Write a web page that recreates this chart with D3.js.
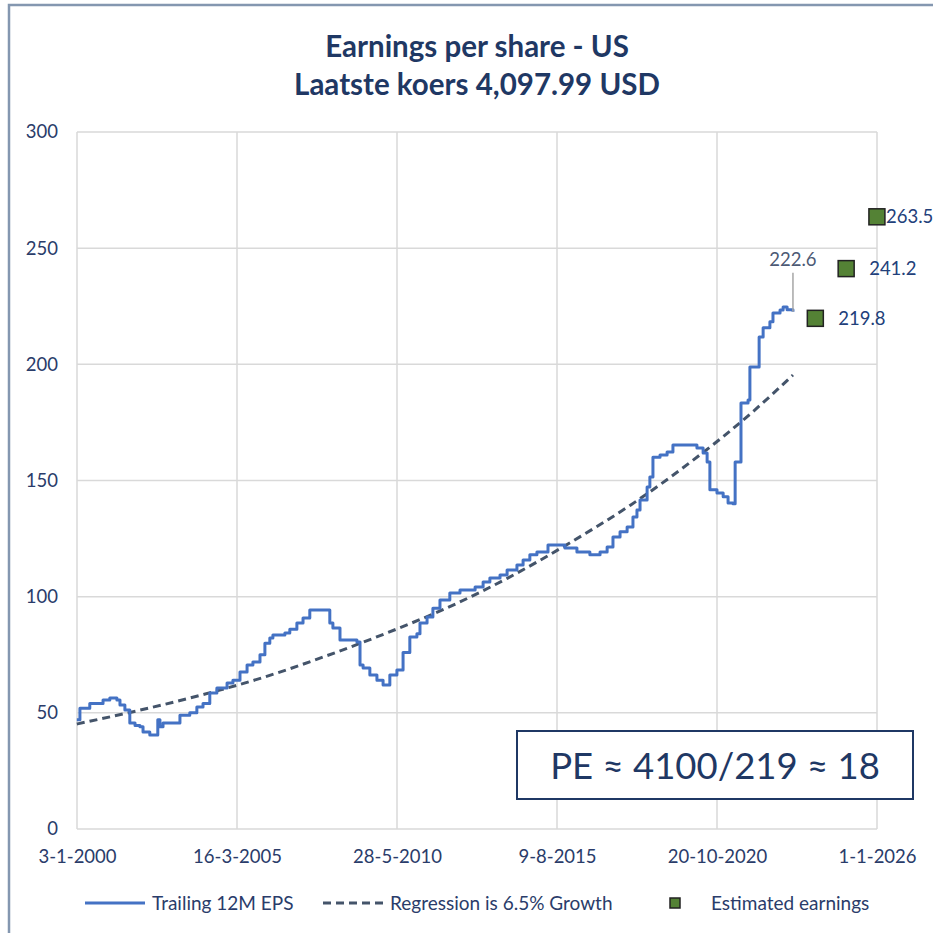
<!DOCTYPE html>
<html>
<head>
<meta charset="utf-8">
<script src="https://cdn.jsdelivr.net/npm/d3@7"></script>
<style>
  body { margin: 0; background: #fff; }
  text { font-family: Lato, "Open Sans", sans-serif; }
</style>
</head>
<body>
<script>
'use strict';

// trailing 12M EPS (decimal year, value)
const epsYears = [2000.00, 2000.10, 2000.42, 2000.85, 2001.07, 2001.30, 2001.40, 2001.56, 2001.72, 2001.89,
  2002.05, 2002.15, 2002.37, 2002.60, 2002.63, 2002.70, 2002.80, 2003.25, 2003.35, 2003.67,
  2003.90, 2004.10, 2004.32, 2004.55, 2004.88, 2005.07, 2005.30, 2005.53, 2005.72, 2005.95,
  2006.11, 2006.27, 2006.37, 2006.76, 2006.92, 2007.15, 2007.35, 2007.57, 2008.13, 2008.22,
  2008.32, 2008.55, 2009.10, 2009.20, 2009.30, 2009.52, 2009.75, 2009.95, 2010.08, 2010.17,
  2010.40, 2010.60, 2010.82, 2011.05, 2011.15, 2011.38, 2011.57, 2011.80, 2012.12, 2012.45,
  2012.94, 2013.20, 2013.42, 2013.75, 2013.98, 2014.30, 2014.50, 2014.72, 2014.95, 2015.31,
  2015.86, 2016.25, 2016.67, 2017.00, 2017.23, 2017.42, 2017.65, 2017.88, 2018.07, 2018.20,
  2018.30, 2018.53, 2018.62, 2018.72, 2018.95, 2019.18, 2019.37, 2020.02, 2020.15, 2020.35,
  2020.48, 2020.57, 2020.80, 2021.00, 2021.16, 2021.32, 2021.39, 2021.55, 2021.58, 2021.81,
  2021.87, 2022.13, 2022.17, 2022.30, 2022.52, 2022.62, 2022.85, 2022.95, 2023.08, 2023.27];
const epsValues = [47, 52, 54, 55.5, 56.4, 55.5, 53.4, 51.2, 45.6, 44.5,
  44, 41.8, 40.5, 40.5, 47, 44, 45.6, 45.6, 49, 50,
  52.5, 54, 58.5, 60.7, 62.8, 64, 67.6, 70.6, 71.9, 75,
  80, 82.2, 83.5, 84.4, 86, 88.7, 90.8, 94.3, 94.3, 88.7,
  86.5, 81.4, 80.5, 70.6, 69.3, 66.3, 64, 62, 62, 66.3,
  68.4, 76, 82.6, 84, 88.7, 91.3, 95, 98.6, 101.6, 102.9,
  104.2, 106.3, 108, 109.3, 111.5, 113.6, 115.8, 118, 119.2, 122.2,
  121, 119.2, 118, 119.2, 121.4, 125.7, 127.9, 130, 134.3, 137.3,
  141.6, 147.2, 151.5, 160, 161, 162.3, 165.3, 165.3, 164, 161.8,
  158, 146, 144.6, 143, 140.3, 140, 158, 158, 183.4, 184.7,
  198.9, 198.9, 211.8, 215.7, 218.3, 222.1, 223.4, 224.7, 223.5, 222.6];

// regression trend (6.5% growth)
const regYears = [2000, 2002, 2004, 2006, 2008, 2010, 2012, 2014, 2016, 2018, 2020, 2022, 2023.27];
const regValues = [45.2, 51, 57.5, 65, 74, 84, 95, 108, 123, 139.5, 158.5, 180, 195.4];

// estimated earnings
const estDates = ['2023-12-31', '2024-12-31', '2025-12-31'];
const estValues = [219.8, 241.2, 263.5];

const lastEpsLabel = 222.6;

const xTickDates = ['2000-01-03', '2005-03-16', '2010-05-28', '2015-08-09', '2020-10-20', '2026-01-01'];
const yTicks = [0, 50, 100, 150, 200, 250, 300];

const titleLines = ['Earnings per share - US', 'Laatste koers 4,097.99 USD'];
const legendLabels = ['Trailing 12M EPS', 'Regression is 6.5% Growth', 'Estimated earnings'];
const peText = 'PE \u2248 4100/219 \u2248 18';

const W = 933, H = 933;
const plot = {left: 77, right: 877, top: 132, bottom: 829};
const navy = '#1f3864';
const axisText = '#2a3c6a';

function yearToDate(y) {
  const yr = Math.floor(y);
  const a = new Date(yr, 0, 1), b = new Date(yr + 1, 0, 1);
  return new Date(+a + (y - yr) * (b - a));
}
const parse = d3.timeParse('%Y-%m-%d');

const svg = d3.select('body').append('svg')
  .attr('width', W)
  .attr('height', H);

svg.append('rect').attr('width', W).attr('height', H).attr('fill', '#fff');

// outer frame (left and top edges visible)
svg.append('path')
  .attr('d', 'M9,' + H + ' L9,5 L' + W + ',5')
  .attr('fill', 'none')
  .attr('stroke', '#8497b0')
  .attr('stroke-width', 2.5);

const xScale = d3.scaleTime()
  .domain([parse(xTickDates[0]), parse(xTickDates[xTickDates.length - 1])])
  .range([plot.left, plot.right]);
const yScale = d3.scaleLinear()
  .domain([0, 300])
  .range([plot.bottom, plot.top]);

// gridlines
svg.append('g').selectAll('line')
  .data(yTicks).enter().append('line')
  .attr('x1', plot.left).attr('x2', plot.right)
  .attr('y1', d => yScale(d)).attr('y2', d => yScale(d))
  .attr('stroke', '#d9d9d9').attr('stroke-width', 1.5);
svg.append('g').selectAll('line')
  .data(xTickDates.map(parse)).enter().append('line')
  .attr('x1', d => xScale(d)).attr('x2', d => xScale(d))
  .attr('y1', plot.top).attr('y2', plot.bottom)
  .attr('stroke', '#d9d9d9').attr('stroke-width', 1.5);

// axes
const yAxis = d3.axisLeft(yScale).tickValues(yTicks).tickSize(0).tickPadding(19);
const gy = svg.append('g').attr('transform', 'translate(' + plot.left + ',0)').call(yAxis);
gy.select('.domain').remove();
gy.selectAll('text').attr('font-size', 18.5).attr('fill', axisText).style('font-family', 'Lato');

const fmt = d => d.getDate() + '-' + (d.getMonth() + 1) + '-' + d.getFullYear();
const xAxis = d3.axisBottom(xScale).tickValues(xTickDates.map(parse)).tickFormat(fmt).tickSize(0).tickPadding(21);
const gx = svg.append('g').attr('transform', 'translate(0,' + plot.bottom + ')').call(xAxis);
gx.select('.domain').remove();
gx.selectAll('text').attr('font-size', 18.5).attr('fill', axisText).style('font-family', 'Lato');

// regression line
const regData = regYears.map((y, i) => ({date: yearToDate(y), v: regValues[i]}));
svg.append('path')
  .datum(regData)
  .attr('d', d3.line().x(d => xScale(d.date)).y(d => yScale(d.v)).curve(d3.curveMonotoneX))
  .attr('fill', 'none')
  .attr('stroke', '#44546a')
  .attr('stroke-width', 3)
  .attr('stroke-dasharray', '8,5');

// trailing EPS
const epsData = epsYears.map((y, i) => ({date: yearToDate(y), v: epsValues[i]}));
svg.append('path')
  .datum(epsData)
  .attr('d', d3.line().x(d => xScale(d.date)).y(d => yScale(d.v)).curve(d3.curveStepAfter))
  .attr('fill', 'none')
  .attr('stroke', '#4472c4')
  .attr('stroke-width', 3)
  .attr('stroke-linejoin', 'round');

// label for last EPS value with leader line
const last = epsData[epsData.length - 1];
const lx = xScale(last.date), ly = yScale(lastEpsLabel);
svg.append('line')
  .attr('x1', lx).attr('x2', lx)
  .attr('y1', ly).attr('y2', ly - 39)
  .attr('stroke', '#a6a6a6').attr('stroke-width', 1.5);
svg.append('text')
  .attr('x', lx).attr('y', ly - 46)
  .attr('text-anchor', 'middle')
  .attr('font-size', 18.5)
  .attr('fill', '#4d5a75')
  .text(lastEpsLabel.toFixed(1));

// estimated earnings squares
const est = estDates.map((d, i) => ({date: parse(d), v: estValues[i]}));
svg.append('g').selectAll('rect')
  .data(est).enter().append('rect')
  .attr('x', d => xScale(d.date) - 8)
  .attr('y', d => yScale(d.v) - 8)
  .attr('width', 16).attr('height', 16)
  .attr('fill', '#548235')
  .attr('stroke', '#222').attr('stroke-width', 1.5);
svg.append('g').selectAll('text')
  .data(est).enter().append('text')
  .attr('x', d => Math.min(xScale(d.date) + 23, W - 47))
  .attr('y', d => yScale(d.v))
  .attr('dy', '0.35em')
  .attr('font-size', 18.5)
  .attr('fill', '#22407a')
  .text(d => d.v.toFixed(1));

// title
svg.append('g').selectAll('text')
  .data(titleLines).enter().append('text')
  .attr('x', 477)
  .attr('y', (d, i) => 57 + i * 38)
  .attr('text-anchor', 'middle')
  .attr('font-size', 29.5)
  .attr('font-weight', 'bold')
  .attr('fill', navy)
  .text(d => d);

// PE box
svg.append('rect')
  .attr('x', 517).attr('y', 731)
  .attr('width', 396).attr('height', 68)
  .attr('fill', '#fff')
  .attr('stroke', navy).attr('stroke-width', 2);
svg.append('text')
  .attr('x', 715).attr('y', 779)
  .attr('text-anchor', 'middle')
  .attr('font-size', 36.5)
  .attr('fill', navy)
  .text(peText);

// legend
const ly0 = 903;
const legend = svg.append('g');
legend.append('line')
  .attr('x1', 85).attr('x2', 145).attr('y1', ly0).attr('y2', ly0)
  .attr('stroke', '#4472c4').attr('stroke-width', 3);
legend.append('line')
  .attr('x1', 323).attr('x2', 385).attr('y1', ly0).attr('y2', ly0)
  .attr('stroke', '#44546a').attr('stroke-width', 3).attr('stroke-dasharray', '8,5');
legend.append('rect')
  .attr('x', 670).attr('y', ly0 - 5).attr('width', 10).attr('height', 10)
  .attr('fill', '#548235').attr('stroke', '#222').attr('stroke-width', 1.5);
legend.selectAll('text.lg')
  .data(legendLabels).enter().append('text')
  .attr('class', 'lg')
  .attr('x', (d, i) => [152, 390, 711][i])
  .attr('y', ly0)
  .attr('dy', '0.35em')
  .attr('font-size', 19)
  .attr('fill', axisText)
  .text(d => d);
</script>
</body>
</html>
